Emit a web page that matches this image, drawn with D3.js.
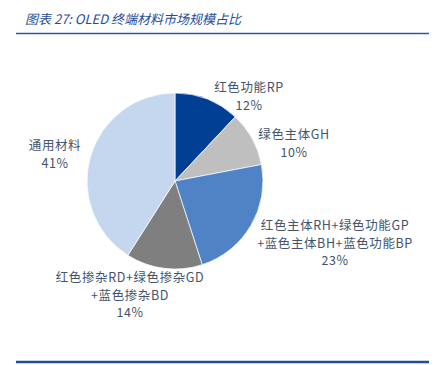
<!DOCTYPE html>
<html>
<head>
<meta charset="utf-8">
<script src="https://cdn.jsdelivr.net/npm/d3@7"></script>
<style>
  body { margin: 0; background: #fff; }
  svg { display: block; }
</style>
</head>
<body>
<div id="chart"></div>
<script>
// Data
const categories = ["红色功能RP", "绿色主体GH", "红色主体RH+绿色功能GP+蓝色主体BH+蓝色功能BP", "红色掺杂RD+绿色掺杂GD+蓝色掺杂BD", "通用材料"];
const shares = [12, 10, 23, 14, 41];
// label lines as shown (category split across lines, then the percent)
const labelLines = [
    ["红色功能RP"],
    ["绿色主体GH"],
    ["红色主体RH+绿色功能GP", "+蓝色主体BH+蓝色功能BP"],
    ["红色掺杂RD+绿色掺杂GD", "+蓝色掺杂BD"],
    ["通用材料"]
];
const colors = ["#003f93", "#bfbfbf", "#4f83c6", "#7f7f7f", "#c5d7ee"];

const width = 439, height = 365;
const cx = 175, cy = 181, radius = 88;

// label anchor points (centre of the text block, top line baseline)
const labelAt = [[249, 92], [294, 139], [335, 230], [130, 282], [55, 150]];

const svg = d3.select("#chart").append("svg")
    .attr("width", width)
    .attr("height", height);

// Title
svg.append("text")
    .attr("x", 25)
    .attr("y", 24)
    .attr("font-family", "'Noto Sans CJK SC', sans-serif")
    .attr("font-size", 13)
    .attr("font-style", "italic")
    .attr("fill", "#1f4e9b")
    .text("图表 27:  OLED 终端材料市场规模占比");

svg.append("line")
    .attr("x1", 16).attr("x2", 429)
    .attr("y1", 33.5).attr("y2", 33.5)
    .attr("stroke", "#2a5aa8")
    .attr("stroke-width", 1.5);

svg.append("line")
    .attr("x1", 16).attr("x2", 429)
    .attr("y1", 362).attr("y2", 362)
    .attr("stroke", "#1f4e9b")
    .attr("stroke-width", 2.5);

// Pie
const pie = d3.pie().sort(null).value(d => d);
const arc = d3.arc().innerRadius(0).outerRadius(radius);

const g = svg.append("g").attr("transform", `translate(${cx},${cy})`);
g.selectAll("path")
    .data(pie(shares))
    .enter().append("path")
    .attr("d", arc)
    .attr("fill", (d, i) => colors[i])
    .attr("stroke", "#fff")
    .attr("stroke-width", 0.7);

// Labels
const lineH = 17.5;
const labels = svg.selectAll("text.lbl")
    .data(shares)
    .enter().append("text")
    .attr("class", "lbl")
    .attr("font-family", "'Noto Sans CJK SC', sans-serif")
    .attr("font-size", 12.5)
    .attr("letter-spacing", 0.6)
    .attr("fill", "#44546a")
    .attr("text-anchor", "middle");

labels.each(function(d, i) {
    const t = d3.select(this);
    const lines = labelLines[i].concat([d + "%"]);
    lines.forEach((s, j) => {
        t.append("tspan")
            .attr("x", labelAt[i][0])
            .attr("y", labelAt[i][1] + j * lineH)
            .text(s);
    });
});
</script>
</body>
</html>
